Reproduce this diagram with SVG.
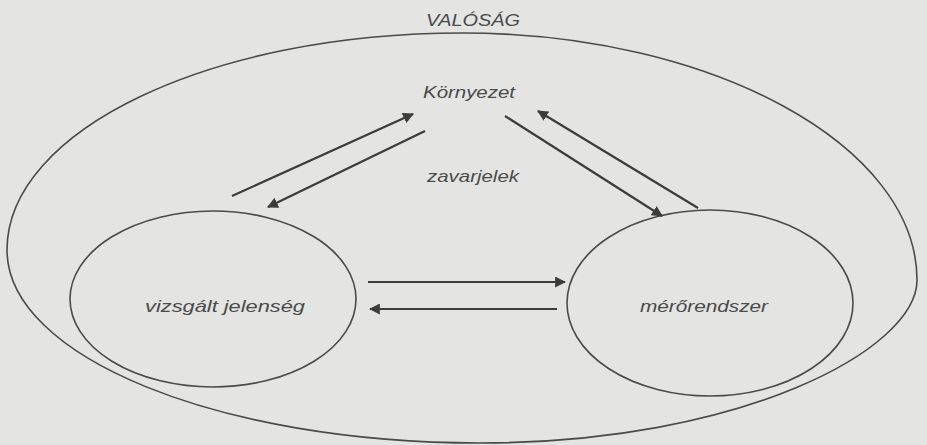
<svg xmlns="http://www.w3.org/2000/svg" width="927" height="445" viewBox="0 0 927 445">
<defs>
<style>
.bg{fill:#e4e4e3}
.ell{fill:none;stroke:#4a4a4a;stroke-width:1.6}
.ar{fill:none;stroke:#3c3c3c;stroke-width:2.2;marker-end:url(#ah)}
.t{font-family:"Liberation Sans",Arial,sans-serif;font-style:italic;font-size:17px;fill:#4a4a4a}
</style>
<marker id="ah" viewBox="0 0 10 10" refX="9" refY="5" markerWidth="5" markerHeight="5" orient="auto" markerUnits="strokeWidth">
<path d="M0,0 L10,5 L0,10 Z" fill="#3c3c3c"/>
</marker>
</defs>
<rect class="bg" x="0" y="0" width="927" height="445"/>
<g id="valosag">
<path class="ell" d="M462,33 C713,33 917,146 917,280 C917,350 740,443 480,443 C219,443 7,357 7,250 C7,130 211,33 462,33 Z"/>
<text class="t" x="426" y="26" textLength="94" lengthAdjust="spacingAndGlyphs">VALÓSÁG</text>
</g>
<g id="kornyezet">
<text class="t" x="423" y="98" textLength="92" lengthAdjust="spacingAndGlyphs">Környezet</text>
</g>
<g id="zavarjelek">
<text class="t" x="427" y="182" textLength="92" lengthAdjust="spacingAndGlyphs">zavarjelek</text>
</g>
<g id="vizsgalt">
<ellipse class="ell" cx="213" cy="299" rx="143" ry="88"/>
<text class="t" x="145" y="312" textLength="160" lengthAdjust="spacingAndGlyphs">vizsgált jelenség</text>
</g>
<g id="meroerendszer">
<ellipse class="ell" cx="710" cy="303" rx="143" ry="93"/>
<text class="t" x="640" y="312" textLength="128" lengthAdjust="spacingAndGlyphs">mérőrendszer</text>
</g>
<g id="connectors">
<line class="ar" x1="232" y1="196" x2="413" y2="114"/>
<line class="ar" x1="425" y1="131" x2="268" y2="207"/>
<line class="ar" x1="505" y1="116" x2="662" y2="216"/>
<line class="ar" x1="698" y1="208" x2="538" y2="111"/>
<line class="ar" x1="368" y1="282" x2="565" y2="282"/>
<line class="ar" x1="557" y1="309" x2="370" y2="309"/>
</g>
</svg>
